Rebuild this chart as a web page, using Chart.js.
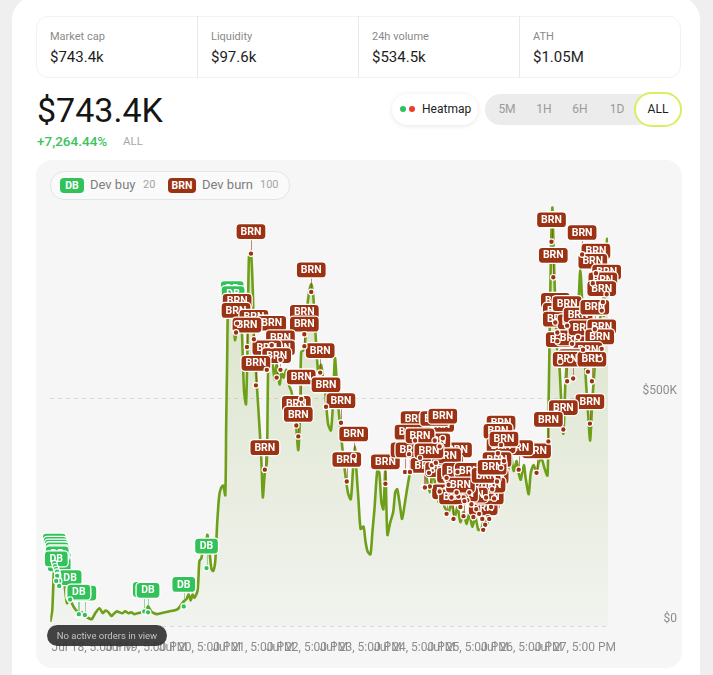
<!DOCTYPE html>
<html>
<head>
<meta charset="utf-8">
<script src="https://cdn.jsdelivr.net/npm/chart.js@4.4.1/dist/chart.umd.min.js"></script>
<style>
  * { box-sizing: border-box; }
  body { margin: 0; width: 713px; height: 675px; overflow: hidden; background: #efefef; font-family: Roboto, "Noto Sans", sans-serif; position: relative; }
  .card { position: absolute; left: 12px; top: -4px; width: 688px; height: 720px; background: #fff; border-radius: 24px; }
  .t { position: absolute; white-space: nowrap; }
  .stats { position: absolute; left: 36px; top: 16px; width: 645px; height: 62px; border: 1px solid #f2f2f2; border-radius: 12px; }
  .div { position: absolute; top: 16px; width: 1px; height: 62px; background: #e9e9e9; }
  .lbl { top: 30px; font-size: 11px; line-height: 14px; color: #8a8a8a; }
  .val { top: 47px; font-size: 15px; line-height: 20px; color: #1d1d1d; }
  .pill { position: absolute; border-radius: 16px; }
  .seg { position: absolute; top: 94px; width: 36px; margin-left: -18px; text-align: center; font-size: 12px; line-height: 31px; color: #9a9a9a; }
  .badge { position: absolute; height: 15px; border-radius: 4px; color: #fff; font-weight: bold; font-size: 10.5px; line-height: 15px; text-align: center; }
  #wrap { position: absolute; left: 36px; top: 160px; width: 646px; height: 508px; background: #f6f6f6; border-radius: 16px; }
  canvas { position: absolute; left: 0; top: 0; }
</style>
</head>
<body>
<div class="card"></div>

<div class="stats"></div>
<div class="div" style="left:197px"></div>
<div class="div" style="left:358px"></div>
<div class="div" style="left:519px"></div>
<div class="t lbl" style="left:50px">Market cap</div>
<div class="t val" style="left:50px">$743.4k</div>
<div class="t lbl" style="left:211px">Liquidity</div>
<div class="t val" style="left:211px">$97.6k</div>
<div class="t lbl" style="left:372px">24h volume</div>
<div class="t val" style="left:372px">$534.5k</div>
<div class="t lbl" style="left:533px">ATH</div>
<div class="t val" style="left:533px">$1.05M</div>

<div class="t" style="left:37px; top:93px; font-size:34px; line-height:34px; color:#151515;">$743.4K</div>
<div class="t" style="left:37px; top:134px; font-size:13.5px; line-height:14px; color:#3cc35c; font-weight:500;">+7,264.44%</div>
<div class="t" style="left:123px; top:134px; font-size:11.5px; line-height:14px; color:#a8a8a8;">ALL</div>

<div class="pill" style="left:392px; top:94px; width:86px; height:31px; background:#fff; box-shadow:0 1px 5px rgba(0,0,0,0.10);"></div>
<div class="pill" style="left:400px; top:106px; width:6px; height:6px; background:#2fc25b;"></div>
<div class="pill" style="left:409px; top:106px; width:6px; height:6px; background:#ef3b2c;"></div>
<div class="t" style="left:422px; top:94px; font-size:12px; line-height:31px; color:#222;">Heatmap</div>

<div class="pill" style="left:485px; top:94px; width:197px; height:31px; background:#ececec;"></div>
<div class="seg" style="left:507px">5M</div>
<div class="seg" style="left:544px">1H</div>
<div class="seg" style="left:580px">6H</div>
<div class="seg" style="left:617px">1D</div>
<div class="pill" style="left:634px; top:92px; width:48px; height:35px; background:#fff; border:2px solid #d6f062; border-radius:18px;"></div>
<div class="seg" style="left:658px; color:#1d1d1d;">ALL</div>

<div id="wrap"><canvas id="grafico" width="646" height="508"></canvas></div>

<div class="pill" style="left:50px; top:171px; width:240px; height:29px; background:#fafafa; border:1px solid #e4e4e4; border-radius:14px;"></div>
<div class="badge" style="left:60px; top:178px; width:24px; background:#33c25a;">DB</div>
<div class="t" style="left:90px; top:177px; font-size:13px; line-height:16px; color:#7d7d7d;">Dev buy</div>
<div class="t" style="left:143px; top:178px; font-size:11px; line-height:14px; color:#a5a5a5;">20</div>
<div class="badge" style="left:168px; top:178px; width:28px; background:#9a3213;">BRN</div>
<div class="t" style="left:202px; top:177px; font-size:13px; line-height:16px; color:#7d7d7d;">Dev burn</div>
<div class="t" style="left:260px; top:178px; font-size:11px; line-height:14px; color:#a5a5a5;">100</div>

<div class="pill" style="left:47px; top:625px; width:120px; height:21px; background:rgba(52,52,52,0.93); border-radius:11px;"></div>
<div class="t" style="left:47px; top:625px; width:120px; text-align:center; font-size:9.5px; line-height:21px; color:#c4c4c4;">No active orders in view</div>

<script>
const ctx = document.getElementById('grafico').getContext('2d');

// Eje X: horas desde Jul 18 00:00
const tickHours = [17, 41, 65, 89, 113, 137, 161, 185, 209, 233];
const tickLabels = ['Jul 18, 5:00 PM', 'Jul 19, 5:00 PM', 'Jul 20, 5:00 PM', 'Jul 21, 5:00 PM', 'Jul 22, 5:00 PM',
  'Jul 23, 5:00 PM', 'Jul 24, 5:00 PM', 'Jul 25, 5:00 PM', 'Jul 26, 5:00 PM', 'Jul 27, 5:00 PM'];
const yTicks = [0, 500000];
const yTickLabels = ['$0', '$500K'];

// Market cap (miles de USD)
const hours = [-2, -1.1, -0.2, 0.7, 1.5, 2.4, 3.3, 4.2, 5.5, 6.4, 6.9, 7.7, 8.6, 10.0, 10.8, 12.2, 13.5, 15.3, 16.6, 18.4,
  20.1, 21.5, 22.8, 24.1, 25.4, 26.3, 27.7, 29.0, 30.3, 31.6, 33.0, 34.3, 35.6, 37.0, 38.7, 40.1, 40.9, 41.8, 43.2, 44.5,
  45.8, 47.6, 49.4, 51.1, 53.3, 55.1, 56.4, 57.8, 59.1, 60.0, 60.9, 61.7, 62.6, 64.0, 64.8, 65.7, 66.6, 67.5, 68.4, 69.3,
  70.2, 71.0, 71.9, 72.8, 73.7, 74.6, 75.5, 76.4, 76.8, 77.2, 77.7, 78.6, 79.5, 80.3, 80.8, 81.7, 83.0, 83.9, 84.8, 85.7,
  86.5, 87.0, 87.9, 88.8, 89.2, 90.5, 91.9, 92.7, 93.2, 94.1, 95.0, 95.8, 97.2, 98.5, 99.4, 100.7, 101.6, 102.5, 103.8, 105.1,
  106.0, 106.9, 107.8, 109.1, 110.0, 110.4, 111.8, 112.6, 113.5, 114.9, 115.8, 116.6, 118.0, 119.3, 120.2, 121.1, 122.4, 123.7, 124.6, 125.5,
  126.4, 127.3, 128.6, 129.9, 131.3, 132.6, 133.5, 134.4, 135.2, 136.1, 137.0, 138.3, 139.2, 140.1, 141.4, 142.3, 143.2, 144.5, 145.4, 146.3,
  147.2, 148.1, 149.0, 150.3, 151.6, 152.5, 153.4, 154.7, 155.6, 156.9, 157.8, 159.1, 160.9, 162.7, 164.5, 166.2, 168.0, 169.3, 170.7, 172.0,
  173.3, 174.6, 176.4, 177.7, 179.1, 180.4, 181.7, 183.1, 184.4, 185.7, 187.0, 188.4, 189.7, 191.0, 192.3, 193.7, 195.0, 196.4, 197.7, 198.5,
  199.9, 201.2, 202.5, 203.4, 204.3, 205.6, 206.9, 207.8, 208.7, 210.1, 210.9, 212.3, 213.2, 214.5, 215.8, 216.7, 218.0, 219.3, 220.7, 221.1,
  221.6, 222.0, 222.5, 222.9, 223.4, 224.2, 225.1, 226.0, 226.9, 227.8, 228.7, 229.6, 230.5, 231.4, 232.2, 233.1, 234.5, 235.4, 236.3, 237.1,
  238.0, 238.9, 239.8, 240.7, 241.6, 242.5, 243.4, 244.3, 245.2, 246.0, 246.9, 247.4, 247.8];
const mcapK = [9, 34, 136, 142, 125, 114, 125, 99, 50, 67, 62, 50, 41, 32, 28, 30, 22, 17, 15, 30,
  39, 28, 34, 30, 22, 26, 32, 30, 28, 32, 28, 30, 26, 28, 30, 37, 30, 43, 32, 28,
  26, 28, 30, 32, 34, 37, 45, 54, 60, 69, 56, 69, 62, 78, 142, 149, 175, 175, 200, 164,
  125, 121, 142, 228, 287, 304, 308, 287, 444, 573, 724, 746, 703, 653, 627, 659, 703, 638, 515, 487,
  659, 810, 821, 724, 631, 530, 422, 347, 282, 336, 358, 601, 590, 541, 573, 530, 556, 545, 562, 526,
  515, 487, 459, 386, 487, 601, 606, 659, 718, 750, 724, 659, 558, 573, 541, 515, 444, 429, 487, 588,
  530, 466, 401, 343, 293, 278, 336, 394, 336, 272, 213, 218, 185, 164, 157, 207, 256, 343, 336, 272,
  256, 343, 200, 228, 250, 293, 300, 261, 235, 272, 300, 336, 373, 358, 401, 336, 293, 336, 304, 272,
  293, 261, 250, 272, 239, 261, 228, 250, 224, 246, 218, 239, 211, 213, 233, 224, 261, 276, 304, 330,
  315, 340, 319, 358, 373, 340, 362, 336, 321, 353, 325, 289, 336, 353, 336, 358, 368, 347, 330, 459,
  616, 746, 875, 918, 832, 703, 601, 573, 487, 422, 530, 595, 659, 638, 601, 638, 703, 782, 703, 616,
  530, 465, 407, 487, 552, 616, 659, 675, 703, 681, 789, 849, 743];

// Dev buy (DB): hora y market cap (miles)
const devBuyHours = [-0.2, 0.2, 0.7, 1.1, 1.5, 1.5, 2.0, 2.0, 1.1, 0.7, 6.9, 10.4, 13.5, 10.8, 40.1, 41.8, 57.8, 68.0, 79.5, 79.9];
const devBuyK = [138, 131, 125, 119, 112, 106, 99, 88, 110, 99, 58, 24, 24, 26, 32, 30, 43, 127, 692, 681];

// Dev burn (BRN): hora y market cap (miles)
const devBurnHours = [87.9, 114.9, 81.7, 81.2, 89.2, 97.2, 111.8, 111.8, 101.1, 101.1,
  95.0, 99.4, 90.1, 118.9, 110.4, 121.5, 108.2, 109.1, 128.2, 94.1,
  133.9, 130.8, 148.1, 161.4, 158.7, 156.9, 165.3, 159.1, 168.0, 222.5,
  236.2, 223.3, 242.4, 241.0, 247.2, 245.5, 245.0, 224.2, 225.1, 225.1,
  229.5, 231.7, 226.4, 230.9, 234.4, 236.6, 241.9, 245.0, 244.1, 238.8,
  232.2, 229.5, 240.6, 239.7, 227.8, 221.1, 215.8, 207.8, 199.9, 198.5,
  199.9, 198.1, 196.8, 194.1, 192.8, 191.5, 191.9, 194.6, 186.6, 188.8,
  184.8, 190.1, 183.1, 195.4, 187.5, 172.4, 170.2, 168.9, 180.4, 165.8,
  176.4, 172.4, 177.7, 180.8, 183.5, 175.5, 183.1, 178.6, 173.8, 170.7,
  175.5, 180.0, 185.7, 163.6, 167.6, 181.7, 193.2, 195.9, 201.2, 86.1];
const devBurnK = [817, 733, 664, 644, 629, 616, 640, 614, 584, 562,
  562, 545, 528, 556, 498, 481, 440, 416, 446, 343,
  373, 317, 312, 407, 377, 338, 304, 338, 306, 843,
  815, 765, 774, 752, 728, 711, 692, 666, 644, 625,
  659, 619, 580, 584, 634, 606, 651, 608, 586, 558,
  543, 537, 537, 444, 431, 405, 336, 343, 397, 379,
  347, 317, 280, 239, 222, 235, 211, 235, 267, 256,
  276, 246, 282, 261, 239, 394, 407, 353, 338, 304,
  310, 295, 282, 284, 274, 246, 241, 235, 412, 358,
  325, 293, 293, 369, 336, 261, 282, 300, 362, 612];

function dibujarGrupo(c, sx, sy, hs, vs, texto, color, ancho) {
  const pts = hs.map((h, i) => ({ px: sx.getPixelForValue(h), py: sy.getPixelForValue(vs[i] * 1000) }));
  c.save();
  c.lineWidth = 1;
  c.strokeStyle = color;
  c.globalAlpha = 0.55;
  pts.forEach(p => {
    c.beginPath();
    c.moveTo(Math.round(p.px) + 0.5, p.py - 15);
    c.lineTo(Math.round(p.px) + 0.5, p.py - 3);
    c.stroke();
  });
  c.globalAlpha = 1;
  c.font = 'bold 10.5px Roboto';
  c.textAlign = 'center';
  c.textBaseline = 'middle';
  pts.forEach(p => {
    const bx = p.px - ancho / 2, by = p.py - 22 - 8;
    c.beginPath();
    c.roundRect(bx, by, ancho, 16, 4);
    c.fillStyle = color;
    c.fill();
    c.strokeStyle = '#fff';
    c.lineWidth = 1.3;
    c.stroke();
    c.fillStyle = '#fff';
    c.fillText(texto, p.px, p.py - 21.5);
  });
  pts.forEach(p => {
    c.beginPath();
    c.arc(p.px, p.py, 2.8, 0, Math.PI * 2);
    c.fillStyle = color;
    c.fill();
    c.strokeStyle = '#fff';
    c.lineWidth = 1.2;
    c.stroke();
  });
  c.restore();
}

const marcadores = {
  id: 'marcadores',
  afterDatasetsDraw(chart) {
    const { ctx: c, scales: { x, y } } = chart;
    dibujarGrupo(c, x, y, devBuyHours, devBuyK, 'DB', '#33c25a', 24);
    dibujarGrupo(c, x, y, devBurnHours, devBurnK, 'BRN', '#9a3213', 30);
  }
};

Chart.defaults.font.family = 'Roboto';

new Chart(ctx, {
  type: 'line',
  data: {
    datasets: [{
      data: hours.map((h, i) => ({ x: h, y: mcapK[i] * 1000 })),
      borderColor: '#6e9f18',
      borderWidth: 2.6,
      pointRadius: 0,
      tension: 0.25,
      fill: 'origin',
      backgroundColor: (c) => {
        const area = c.chart.chartArea;
        if (!area) return 'rgba(120,165,40,0.1)';
        const g = c.chart.ctx.createLinearGradient(0, area.top, 0, area.bottom);
        g.addColorStop(0, 'rgba(115,162,35,0.26)');
        g.addColorStop(1, 'rgba(115,162,35,0.03)');
        return g;
      }
    }]
  },
  options: {
    responsive: false,
    animation: false,
    layout: { padding: { left: 8, top: 2, right: 5, bottom: 0 } },
    plugins: { legend: { display: false }, tooltip: { enabled: false } },
    scales: {
      x: {
        type: 'linear',
        min: -2,
        max: 247.8,
        grid: { display: false, drawTicks: false },
        border: { display: false },
        afterBuildTicks: s => { s.ticks = tickHours.map(v => ({ value: v })); },
        afterFit: s => { s.height = 42; },
        ticks: {
          autoSkip: false,
          maxRotation: 0,
          padding: 15,
          color: '#8c8c8c',
          font: { size: 12 },
          callback: v => tickLabels[tickHours.indexOf(v)]
        }
      },
      y: {
        position: 'right',
        min: 0,
        max: 1000000,
        grid: { color: '#d9d9d9', drawTicks: false, lineWidth: 1 },
        border: { display: false, dash: [4, 4] },
        afterBuildTicks: s => { s.ticks = yTicks.map(v => ({ value: v })); },
        afterFit: s => { s.width = 69; },
        ticks: {
          crossAlign: 'far',
          labelOffset: -7,
          color: '#8c8c8c',
          font: { size: 12 },
          callback: v => yTickLabels[yTicks.indexOf(v)]
        }
      }
    }
  },
  plugins: [marcadores]
});
</script>
</body>
</html>
